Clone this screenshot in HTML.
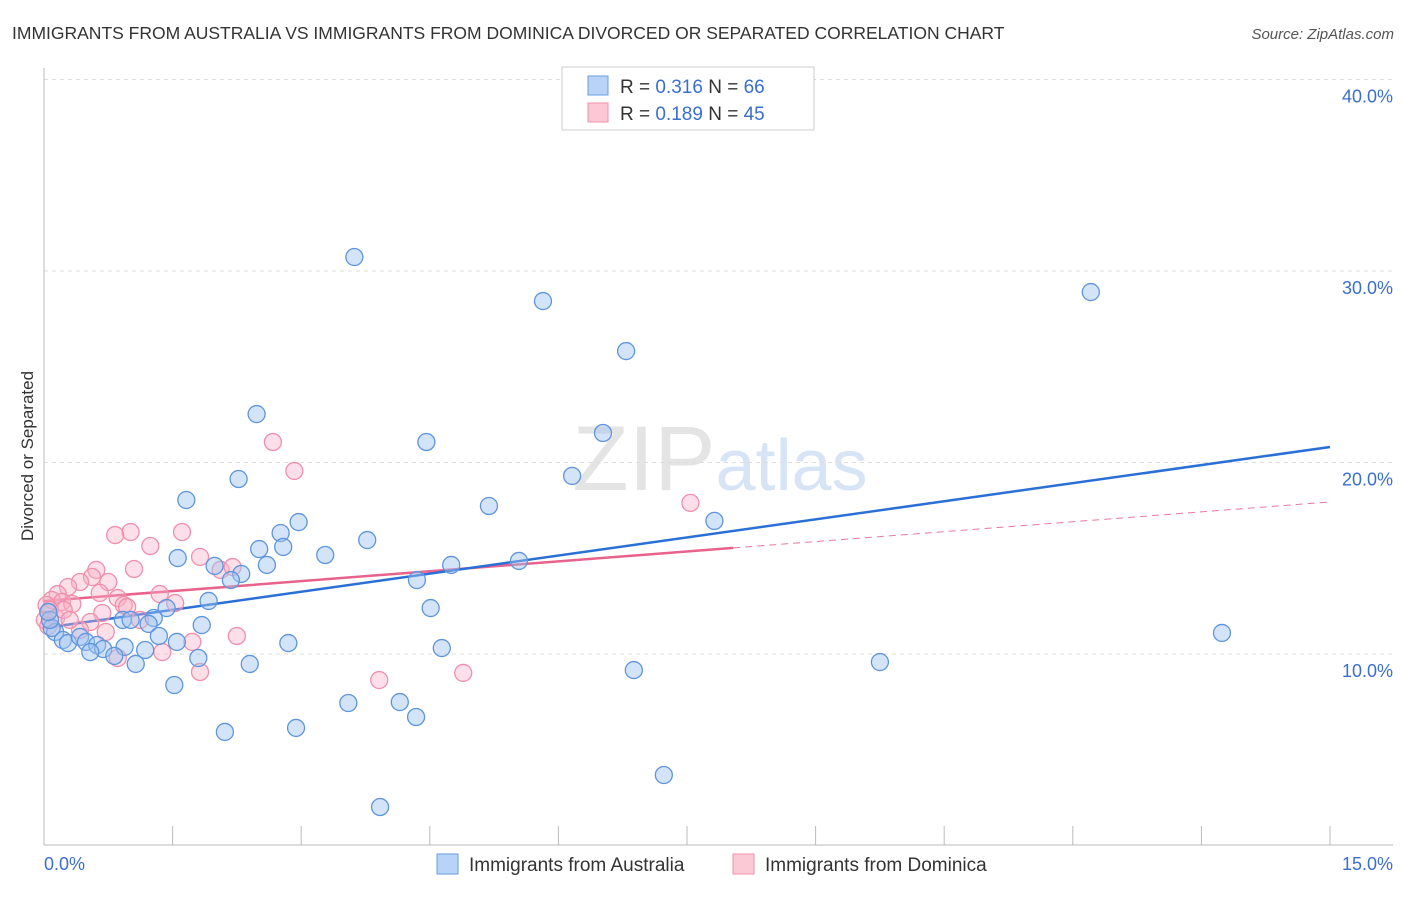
<!DOCTYPE html>
<html><head><meta charset="utf-8"><style>
body{margin:0;background:#fff;font-family:"Liberation Sans",sans-serif}
svg text{font-family:"Liberation Sans",sans-serif}
</style></head><body>
<svg id="chart" width="1406" height="892" viewBox="0 0 1406 892" xmlns="http://www.w3.org/2000/svg">
<text x="12" y="39" font-size="17.5" fill="#333">IMMIGRANTS FROM AUSTRALIA VS IMMIGRANTS FROM DOMINICA DIVORCED OR SEPARATED CORRELATION CHART</text>
<text x="1394" y="39" font-size="15" fill="#555" text-anchor="end" font-style="italic">Source: ZipAtlas.com</text>
<text x="720" y="490" font-size="92" text-anchor="middle" fill="#e4e4e4" font-family="Liberation Serif"><tspan>ZIP</tspan><tspan fill="#d6e4f5" font-family="Liberation Sans" font-size="72">atlas</tspan></text>
<g id="grid"></g>
<g id="axes"></g>
<text transform="translate(33,456) rotate(-90)" font-size="17" fill="#333" text-anchor="middle">Divorced or Separated</text>
<g id="lines"></g>
<g id="points"></g>
<g>
<rect x="562" y="67" width="252" height="63" fill="#fff" stroke="#ccc"/>
<rect x="588" y="76" width="20" height="19" fill="#b8d3f5" stroke="#6a9de0"/>
<text x="620" y="93" font-size="19" fill="#333">R = <tspan fill="#3a6fd0">0.316</tspan>   N = <tspan fill="#3a6fd0">66</tspan></text>
<rect x="588" y="103" width="20" height="19" fill="#fbc8d6" stroke="#f08fab"/>
<text x="620" y="120" font-size="19" fill="#333">R = <tspan fill="#3a6fd0">0.189</tspan>   N = <tspan fill="#3a6fd0">45</tspan></text>
</g>
<g>
<rect x="437" y="854" width="21" height="20" fill="#b8d3f5" stroke="#6a9de0"/>
<text x="469" y="871" font-size="19" fill="#333">Immigrants from Australia</text>
<rect x="733" y="854" width="21" height="20" fill="#fbc8d6" stroke="#f08fab"/>
<text x="765" y="871" font-size="19" fill="#333">Immigrants from Dominica</text>
</g>
</svg>
<script>
const xTicks=[0,1.5,3,4.5,6,7.5,9,10.5,12,13.5,15];
const yTicks=[10,20,30,40];
const yTickLabels=["10.0%","20.0%","30.0%","40.0%"];
const ausX=[3.62,5.82,12.21,6.79,2.48,4.46,6.52,6.16,2.27,1.66,5.19,7.82,2.97,2.76,3.77,2.51,2.79,3.28,1.56,5.54,4.75,2.60,1.99,2.30,2.18,4.35,1.92,4.51,1.43,1.28,1.22,0.92,1.01,1.84,1.34,13.74,2.85,4.64,1.55,1.18,0.94,0.13,0.22,0.28,0.42,0.49,0.62,0.69,0.54,0.82,1.07,1.80,2.40,6.88,9.75,1.52,3.55,4.15,4.34,2.11,2.94,7.23,3.92,0.09,0.07,0.05];
const ausY=[30.73,28.43,28.90,25.82,22.53,21.07,21.54,19.30,19.14,18.04,17.73,16.95,16.89,16.32,15.95,15.48,15.59,15.17,15.01,14.86,14.65,14.65,14.60,14.18,13.86,13.86,12.77,12.40,12.40,11.88,11.57,11.78,11.78,11.51,10.94,11.10,10.57,10.31,10.63,10.21,10.37,11.15,10.73,10.57,10.89,10.63,10.47,10.26,10.10,9.90,9.48,9.79,9.48,9.16,9.58,8.38,7.44,7.49,6.71,5.93,6.14,3.68,2.01,11.36,11.78,12.19];
const domX=[2.67,2.92,7.54,1.01,0.83,1.24,1.61,1.82,1.05,2.06,2.20,0.61,0.56,0.42,0.75,0.28,0.16,0.09,0.21,0.33,0.86,1.35,0.93,0.97,1.53,0.68,0.54,0.42,0.72,1.73,2.25,1.38,0.86,1.82,3.91,4.89,0.03,0.07,0.14,0.01,0.05,0.23,0.65,1.12,0.30];
const domY=[21.07,19.56,17.89,16.37,16.21,15.64,16.37,15.07,14.44,14.39,14.54,14.39,14.02,13.76,13.76,13.50,13.13,12.82,12.72,12.61,12.92,13.13,12.56,12.45,12.66,12.14,11.67,11.25,11.15,10.63,10.94,10.10,9.79,9.06,8.64,9.01,12.56,12.30,11.88,11.78,11.46,12.30,13.19,11.78,11.78];
const ausTrend=[11.36,20.81]; // y at x=0 and x=15
const domTrend=[12.77,17.94]; // y at x=0 and x=15
const domSolidEnd=8.04;

const NS="http://www.w3.org/2000/svg";
const X=v=>44+v*(1286/15);
const Y=v=>845.5-v*19.15;
function mk(tag,attrs,parent){const e=document.createElementNS(NS,tag);for(const k in attrs)e.setAttribute(k,attrs[k]);parent.appendChild(e);return e;}
const grid=document.getElementById('grid'),axes=document.getElementById('axes'),lines=document.getElementById('lines'),pts=document.getElementById('points');
yTicks.forEach((t,i)=>{
 const l=mk('line',{x1:44,x2:1393,y1:Y(t),y2:Y(t),stroke:'#ddd','stroke-dasharray':'4,4'},grid);
 
 
 const tx=mk('text',{x:1393,y:Y(t)+23,'font-size':18,fill:'#3a6fd0','text-anchor':'end'},axes);
 tx.textContent=yTickLabels[i];
 
 
});
const ya=mk('line',{x1:44,x2:44,y1:68,y2:845,stroke:'#bbb'},axes);


const xa=mk('line',{x1:44,x2:1393,y1:845,y2:845,stroke:'#bbb'},axes);


xTicks.forEach(t=>{
 const l=mk('line',{x1:X(t),x2:X(t),y1:826,y2:845,stroke:'#bbb'},axes);
 
 
});
[[0,'0.0%','start',44],[15,'15.0%','end',1393]].forEach(a=>{
 const tx=mk('text',{x:a[3],y:870,'font-size':18,fill:'#3a6fd0','text-anchor':a[2]},axes);
 tx.textContent=a[1];
 
 
});
function drawPts(xs,ys,fill,stroke,name){xs.forEach((x,i)=>{
 const c=mk('circle',{cx:X(x),cy:Y(ys[i]),r:8.5,fill:fill,stroke:stroke,'stroke-width':1.3},pts);
 
 
});}
drawPts(domX,domY,'rgba(248,175,198,0.4)','#f08fab','point-dominica');
drawPts(ausX,ausY,'rgba(160,196,240,0.45)','#5f95dd','point-australia');
const lerp=(tr,x)=>tr[0]+(tr[1]-tr[0])*x/15;
const dd=mk('line',{x1:X(domSolidEnd),y1:Y(lerp(domTrend,domSolidEnd)),x2:X(15),y2:Y(domTrend[1]),stroke:'#e87a9c','stroke-width':1,'stroke-dasharray':'7,5'},lines);


const ds=mk('line',{x1:X(0),y1:Y(domTrend[0]),x2:X(domSolidEnd),y2:Y(lerp(domTrend,domSolidEnd)),stroke:'#e8628c','stroke-width':2.5},lines);


const al=mk('line',{x1:X(0),y1:Y(ausTrend[0]),x2:X(15),y2:Y(ausTrend[1]),stroke:'#2a6fd6','stroke-width':2.5},lines);


</script>
</body></html>
